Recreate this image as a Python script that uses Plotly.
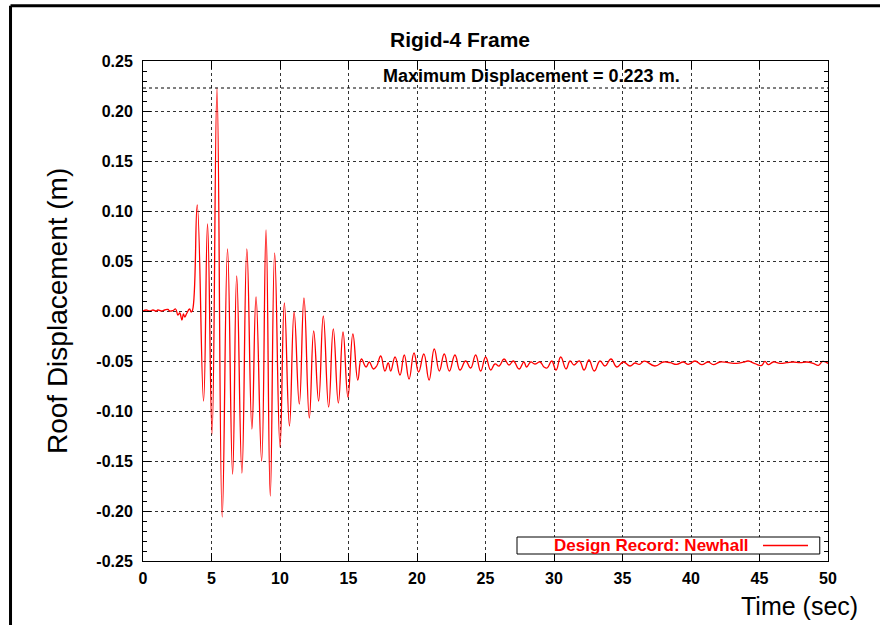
import plotly.graph_objects as go

# ---- data ----
time_s = [0.00, 0.24, 0.49, 0.73, 0.97, 1.09, 1.34, 1.58, 1.82, 1.95, 2.19, 2.38,
          2.55, 2.68, 2.84, 2.95, 3.05, 3.17, 3.40, 3.52, 3.62,
          3.96, 4.42, 4.71, 5.04, 5.40, 5.78, 6.17, 6.54, 6.84, 7.22, 7.58, 7.95,
          8.25, 8.66, 8.98, 9.29, 9.61, 10.00, 10.32, 10.69, 11.03, 11.41, 11.75,
          12.14, 12.46, 12.82, 13.16, 13.55, 13.89, 14.26, 14.60, 14.96, 15.32,
          15.68, 15.94, 16.28, 16.52, 16.81, 17.06, 17.35, 17.66, 17.90, 18.08,
          18.40, 18.76, 19.07, 19.42, 19.78, 20.12, 20.50, 20.88, 21.26, 21.63,
          21.99, 22.36, 22.77, 23.14, 23.55, 23.92, 24.28, 24.65, 25.01, 25.38,
          25.69, 26.00, 26.35, 26.72, 27.03, 27.45, 27.80, 28.00, 28.30, 28.60,
          28.98, 29.27, 29.50, 29.83, 30.15, 30.49, 30.88, 31.17, 31.46, 31.85,
          32.20, 32.55, 32.94, 33.36, 33.72, 34.16, 34.58, 35.06, 35.55, 35.91,
          36.23, 36.59, 37.37, 37.98, 38.47, 38.95, 39.44, 39.80, 40.29, 40.78,
          41.26, 41.63, 42.11, 42.72, 43.33, 43.82, 44.18, 44.67, 45.16, 45.40,
          45.64, 46.01, 46.50, 46.98, 47.47, 47.96, 48.44, 48.93, 49.30, 49.61,
          50.00]
roof_disp = [0.000, 0.001, 0.000, 0.001, 0.000, 0.001, 0.000, 0.001, 0.0015, 0.000, 0.0005, 0.002,
             -0.004, -0.002, -0.009, -0.003, -0.006, -0.003, 0.002, -0.001, 0.001,
             0.106, -0.090, 0.087, -0.123, 0.223, -0.206, 0.062, -0.163, 0.035, -0.162, 0.062, -0.118,
             0.014, -0.150, 0.081, -0.185, 0.058, -0.136, 0.008, -0.115, -0.001, -0.093, 0.013,
             -0.107, -0.020, -0.090, -0.005, -0.096, -0.018, -0.092, -0.021, -0.086, -0.023,
             -0.069, -0.048, -0.056, -0.051, -0.058, -0.055, -0.045, -0.060, -0.052, -0.060,
             -0.046, -0.064, -0.044, -0.068, -0.042, -0.061, -0.043, -0.069, -0.038, -0.060,
             -0.043, -0.060, -0.044, -0.059, -0.050, -0.057, -0.044, -0.060, -0.046, -0.059,
             -0.053, -0.055, -0.048, -0.054, -0.050, -0.058, -0.051, -0.056, -0.051, -0.053,
             -0.051, -0.056, -0.057, -0.050, -0.059, -0.046, -0.058, -0.050, -0.054, -0.050,
             -0.059, -0.049, -0.060, -0.050, -0.055, -0.048, -0.056, -0.051, -0.055, -0.052,
             -0.0534, -0.0501, -0.055, -0.051, -0.0517, -0.0534, -0.051, -0.0534, -0.050, -0.0537,
             -0.051, -0.0537, -0.051, -0.0517, -0.0524, -0.0512, -0.050, -0.0527, -0.0544, -0.0504,
             -0.0537, -0.051, -0.0524, -0.0517, -0.051, -0.0517, -0.051, -0.0524, -0.0544, -0.0504,
             -0.0524]

x_ticks = [0, 5, 10, 15, 20, 25, 30, 35, 40, 45, 50]
x_tick_labels = ["0", "5", "10", "15", "20", "25", "30", "35", "40", "45", "50"]
y_ticks = [-0.25, -0.20, -0.15, -0.10, -0.05, 0.00, 0.05, 0.10, 0.15, 0.20, 0.25]
y_tick_labels = ["-0.25", "-0.20", "-0.15", "-0.10", "-0.05", "0.00",
                 "0.05", "0.10", "0.15", "0.20", "0.25"]
max_disp = 0.223

title_text = "Rigid-4 Frame"
series_name = "Design Record: Newhall"
max_text = "Maximum Displacement = 0.223 m."

FONT = "Liberation Sans, Arial, sans-serif"

fig = go.Figure()
fig.add_trace(go.Scatter(
    x=time_s, y=roof_disp, mode="lines", name=series_name,
    line=dict(color="#ff0000", width=1.3, shape="spline", smoothing=1.3),
    showlegend=False,
))

axis_common = dict(
    showline=True, linecolor="black", linewidth=1, mirror="ticks",
    ticks="inside", ticklen=8, tickwidth=1, tickcolor="black",
    showgrid=True, gridcolor="#333333", gridwidth=1, griddash="dot",
    zeroline=False,
    tickfont=dict(family=FONT, size=16, color="black", weight="bold"),
)

fig.update_xaxes(range=[0, 50], tickvals=x_ticks, ticktext=x_tick_labels,
                 ticklabelstandoff=3, **axis_common)
fig.update_yaxes(range=[-0.25, 0.25], tickvals=y_ticks, ticktext=y_tick_labels,
                 minor=dict(dtick=0.01, tick0=0, ticks="inside", ticklen=4,
                            tickcolor="black", showgrid=False),
                 ticklabelstandoff=6, **axis_common)

shapes = [
    # maximum displacement line
    dict(type="line", xref="paper", yref="y", x0=0, x1=1, y0=max_disp, y1=max_disp,
         line=dict(color="black", width=1, dash="3px,3px")),
    # outer frame (top and left)
    dict(type="line", xref="paper", yref="paper", x0=-0.1934, x1=1.2, y0=1.1106, y1=1.1106,
         line=dict(color="black", width=3)),
    dict(type="line", xref="paper", yref="paper", x0=-0.1934, x1=-0.1934, y0=1.1106, y1=-0.2,
         line=dict(color="black", width=3)),
    # legend box
    dict(type="rect", xref="paper", yref="paper", x0=0.546, x1=0.988, y0=0.014, y1=0.048,
         line=dict(color="black", width=1), fillcolor="white", layer="above"),
    dict(type="line", xref="paper", yref="paper", x0=0.9051, x1=0.9708, y0=0.031, y1=0.031,
         line=dict(color="#ff0000", width=1.5), layer="above"),
]

annotations = [
    dict(text=title_text, xref="paper", yref="paper", x=0.463, y=1.042,
         showarrow=False, xanchor="center", yanchor="middle",
         font=dict(family=FONT, size=21, color="black", weight="bold")),
    dict(text=max_text, xref="paper", yref="paper", x=0.567, y=0.97,
         showarrow=False, xanchor="center", yanchor="middle",
         font=dict(family=FONT, size=18, color="black", weight="bold")),
    dict(text=series_name, xref="paper", yref="paper", x=0.8876, y=0.031,
         showarrow=False, xanchor="right", yanchor="middle",
         font=dict(family=FONT, size=17, color="#ff0000", weight="bold")),
    dict(text="Roof Displacement (m)", xref="paper", yref="paper", x=-0.1255, y=0.5,
         showarrow=False, xanchor="center", yanchor="middle", textangle=-90,
         font=dict(family=FONT, size=28, color="black")),
    dict(text="Time (sec)", xref="paper", yref="paper", x=1.0467, y=-0.058,
         showarrow=False, xanchor="right", yanchor="top",
         font=dict(family=FONT, size=25, color="black")),
]

fig.update_layout(
    width=880, height=625,
    margin=dict(l=143, r=52, t=61, b=64, autoexpand=False),
    paper_bgcolor="white", plot_bgcolor="white",
    shapes=shapes, annotations=annotations,
    showlegend=False,
)

fig.write_html("out.html", config={"displayModeBar": False},
               post_script="document.body.style.margin='0';document.body.style.padding='0';")
